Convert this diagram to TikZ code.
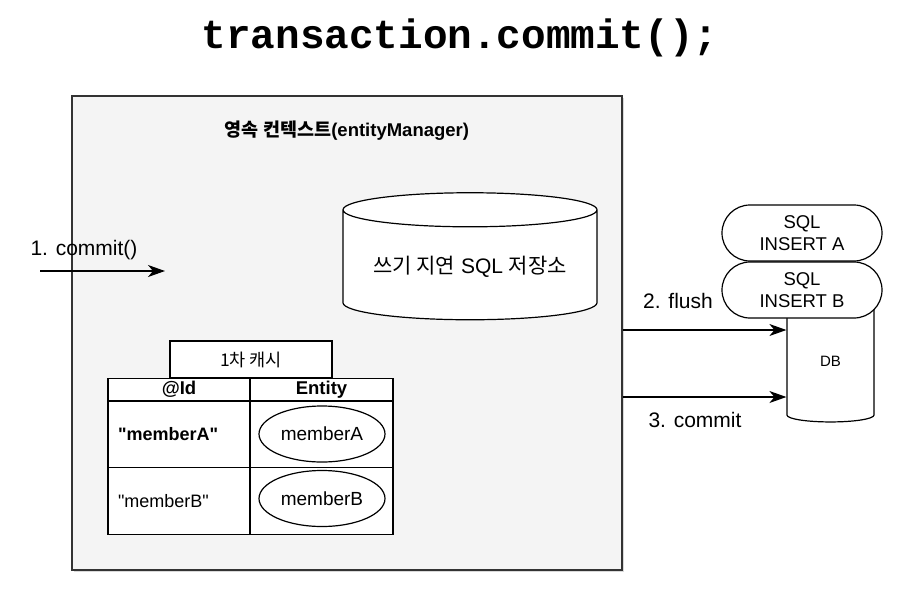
\documentclass[tikz,border=0pt]{standalone}
\usepackage{fontspec}
\setmainfont{Liberation Sans}[Ligatures=TeXOff]
\setmonofont{Liberation Mono}
\newfontfamily\kr{Noto Sans CJK KR}
\definecolor{ctxgray}{HTML}{F4F4F4}
\definecolor{edgegray}{HTML}{333333}
\usetikzlibrary{positioning,shapes.geometric,shapes.misc,arrows.meta,shadows}

\begin{document}
\begin{tikzpicture}[x=1pt,y=-1pt,
    ctxbox/.style={draw=edgegray,line width=1.4pt,fill=ctxgray,
      drop shadow={shadow xshift=2pt,shadow yshift=-2pt,opacity=0.3}},
    cell/.style={draw,line width=1.2pt,fill=white,inner sep=0pt},
    cyl/.style={draw,line width=1.2pt,fill=white,cylinder,shape border rotate=90},
    pill/.style={draw,line width=1.2pt,fill=white,rounded rectangle,
      minimum width=160,minimum height=56,align=center,inner sep=0pt,
      font=\fontsize{18.5}{22}\selectfont},
    oval/.style={draw,line width=1.2pt,ellipse,minimum width=126,minimum height=56,
      inner sep=0pt,font=\fontsize{19}{22}\selectfont},
    lbl/.style={inner sep=0pt,font=\fontsize{21}{24}\selectfont},
    arr/.style={line width=1.2pt,-{Stealth[length=17pt,width=12pt,inset=5pt]}}
    ]
    \useasboundingbox (0,0) rectangle (905,598);

    \node (title) [inner sep=0pt,font=\fontsize{41}{44}\selectfont\ttfamily\bfseries]
      at (460,38) {transaction.commit();};

    % persistence context
    \node (ctx) [ctxbox,minimum width=550,minimum height=474] at (347,333) {};
    \node (ctxlbl) [inner sep=0pt,font=\fontsize{18.5}{22}\selectfont\bfseries]
      at (347,131) {{\kr 영속 컨텍스트}(entityManager)};

    \node (buf) [cyl,minimum width=254,minimum height=127,aspect=0.17,
      font=\fontsize{21}{24}\selectfont] at (470,267) {{\kr 쓰기 지연} SQL {\kr 저장소}};

    % first level cache
    \node (cache) [cell,minimum width=162,minimum height=37,
      font=\kr\fontsize{17.5}{20}\selectfont] at (251,359.5) {1차 캐시};
    \node (hid) [cell,minimum width=142,minimum height=22,
      font=\fontsize{18.5}{20}\selectfont\bfseries] at (179,389.5) {@Id};
    \node (hent) [cell,minimum width=143,minimum height=22,
      font=\fontsize{18.5}{20}\selectfont\bfseries] at (321.5,389.5) {Entity};
    \node (ka) [cell,minimum width=142,minimum height=67,text width=122,inner xsep=10pt,
      align=left,font=\fontsize{18}{21}\selectfont\bfseries] at (179,434.5) {"memberA"};
    \node (va) [cell,minimum width=143,minimum height=67] at (321.5,434.5) {};
    \node (kb) [cell,minimum width=142,minimum height=67,text width=122,inner xsep=10pt,
      align=left,font=\fontsize{18}{21}\selectfont] at (179,501) {"memberB"};
    \node (vb) [cell,minimum width=143,minimum height=67] at (321.5,501) {};
    \node (ea) [oval] at (322,434) {memberA};
    \node (eb) [oval] at (322,498.5) {memberB};

    % database side
    \node (db) [cyl,minimum width=87,minimum height=131,aspect=0.5,
      font=\fontsize{15}{18}\selectfont] at (830.5,361.5) {DB};
    \node (sqla) [pill] at (802,233) {SQL\\INSERT A};
    \node (sqlb) [pill] at (802,290) {SQL\\INSERT B};

    % the edges
    \coordinate (in0) at (40,271);
    \coordinate (in1) at (165,271);
    \node (commit1) [lbl] at (84,250) {1. commit()};
    \draw[arr] (in0) -- (in1);

    \draw[arr] (ctx.east |- 0,330) -- (db.west |- 0,330);
    \node (flush) [lbl] at (678,301) {2. flush};
    \draw[arr] (ctx.east |- 0,397) -- (db.west |- 0,397);
    \node (commit3) [lbl] at (695,420) {3. commit};
\end{tikzpicture}
\end{document}
